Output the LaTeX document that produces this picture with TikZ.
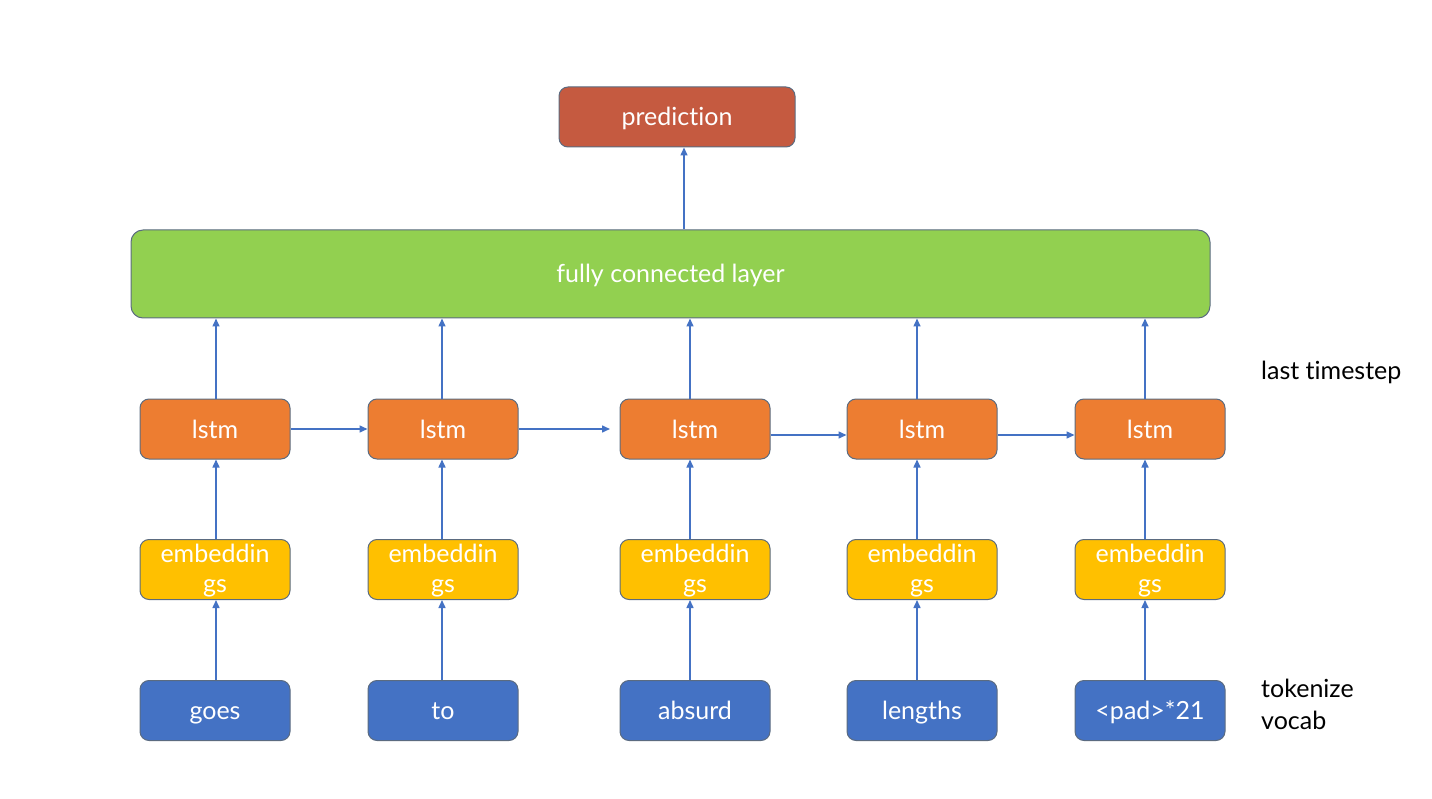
\documentclass[tikz,border=0pt]{standalone}
\usepackage{fontspec}
\setmainfont{Lato}[Ligatures={NoCommon}]
\usetikzlibrary{arrows.meta}
\definecolor{predc}{HTML}{C55A40}
\definecolor{fcc}{HTML}{92D050}
\definecolor{lstmc}{HTML}{ED7D31}
\definecolor{embc}{HTML}{FFC000}
\definecolor{tokc}{HTML}{4472C4}
\definecolor{bordc}{HTML}{5B6B80}
\definecolor{arrc}{HTML}{4472C4}
\tikzset{
  box/.style={draw=bordc, line width=1pt, rounded corners=9pt, minimum width=150pt, minimum height=60pt, inner sep=0pt, text=white, font=\fontsize{25}{30}\selectfont, text height=20pt, text depth=2pt},
  lbl/.style={anchor=base, inner sep=0pt, text=white, font=\fontsize{25}{30}\selectfont},
  arr/.style={draw=arrc, line width=1.5pt, -{Triangle[length=8pt,width=7pt]}},
  side/.style={anchor=west, font=\fontsize{25}{32}\selectfont, align=left, inner sep=0pt}
}
\begin{document}
\begin{tikzpicture}[x=1pt,y=-1pt]
\useasboundingbox (0,0) rectangle (1432,799);
\node[box, fill=predc, minimum width=236pt] (pred) at (677,117) {prediction};
\node[box, fill=fcc, minimum width=1079pt, minimum height=88pt, rounded corners=12pt] (fc) at (670.5,274) {fully connected layer};
\foreach \i/\x in {1/215,2/443,3/695,4/922,5/1150}{
  \node[box, fill=lstmc] (l\i) at (\x,429) {lstm};
  \node[box, fill=embc] (e\i) at (\x,569.5) {};
  \node[lbl] (ea\i) at (\x,562) {embeddin};
  \node[lbl] (eb\i) at (\x,592) {gs};
}
\node[box, fill=tokc] (t1) at (215,710.5) {goes};
\node[box, fill=tokc] (t2) at (443,710.5) {to};
\node[box, fill=tokc] (t3) at (695,710.5) {absurd};
\node[box, fill=tokc] (t4) at (922,710.5) {lengths};
\node[box, fill=tokc] (t5) at (1150,710.5) {<pad>*21};
\foreach \i/\x in {1/216,2/442,3/690,4/917,5/1145}{
  \draw[arr] (t\i.north -| \x,0) -- (e\i.south -| \x,0);
  \draw[arr] (e\i.north -| \x,0) -- (l\i.south -| \x,0);
  \draw[arr] (l\i.north -| \x,0) -- (fc.south -| \x,0);
}
\coordinate (h2) at (610,429);
\draw[arr] (l1.east |- 0,429) -- (l2.west |- 0,429);
\draw[arr] (l2.east |- 0,429) -- (h2);
\draw[arr] (l3.east |- 0,435) -- (l4.west |- 0,435);
\draw[arr] (l4.east |- 0,435) -- (l5.west |- 0,435);
\draw[arr] (fc.north -| 684,0) -- (pred.south -| 684,0);
\node[side] (lt) at (1261,372) {last timestep};
\node[side] (tv) at (1261,704) {tokenize\\vocab};
\end{tikzpicture}
\end{document}
